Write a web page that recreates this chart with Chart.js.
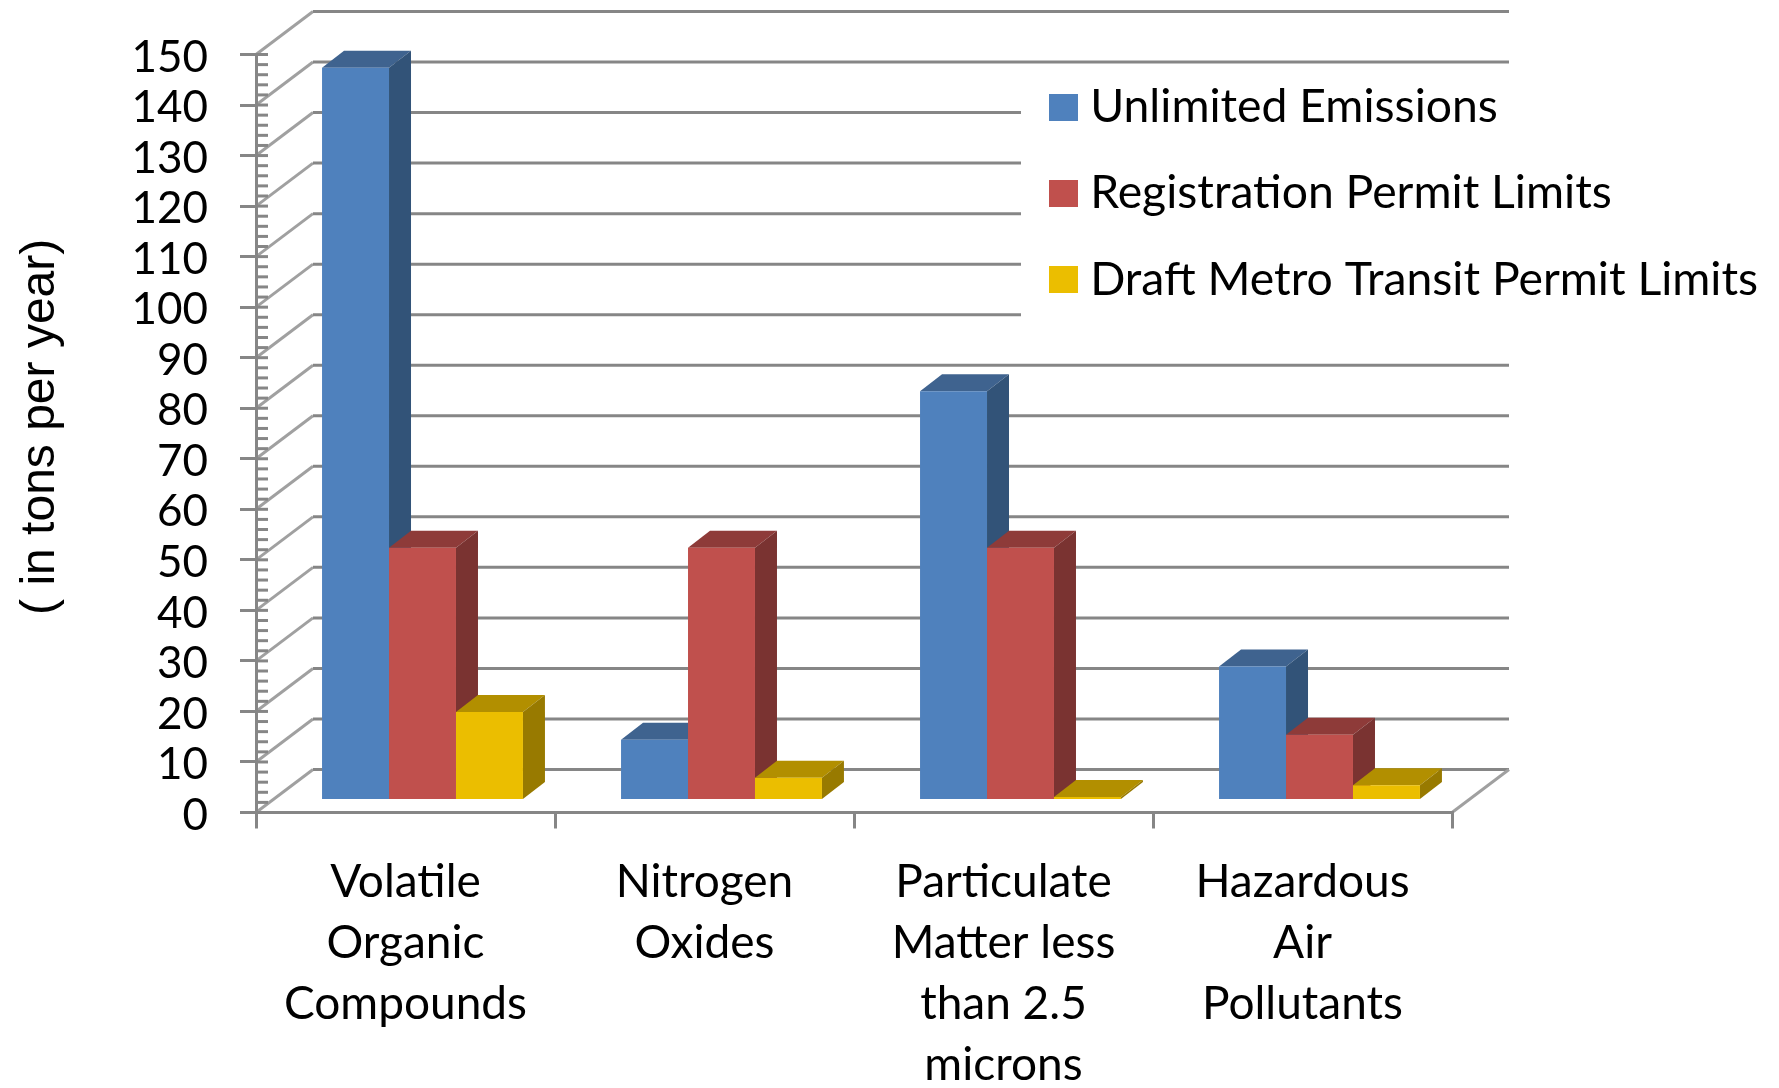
<!DOCTYPE html>
<html>
<head>
<meta charset="utf-8">
<title>Emissions</title>
<script src="https://cdn.jsdelivr.net/npm/chart.js@4"></script>
<style>
    html, body { margin: 0; padding: 0; background: #fff; }
    #box { width: 1779px; height: 1088px; }
</style>
</head>
<body>
<div id="box"><canvas id="emissions-chart"></canvas></div>
<script>
const categories = [
    ['Volatile', 'Organic', 'Compounds'],
    ['Nitrogen', 'Oxides'],
    ['Particulate', 'Matter less', 'than 2.5', 'microns'],
    ['Hazardous', 'Air', 'Pollutants']
];
const unlimitedEmissions = [145, 12, 81, 26.5];
const registrationLimits = [50, 50, 50, 13];
const draftMetroLimits = [17.5, 4.5, 0.7, 3];

const seriesNames = ['Unlimited Emissions', 'Registration Permit Limits', 'Draft Metro Transit Permit Limits'];
const frontColors = ['#4f81bd', '#c0504d', '#ebbe00'];
const topColors = ['#3f638f', '#8e3b39', '#b28f00'];
const sideColors = ['#325378', '#7a3331', '#987a00'];

const lineColor = '#868686';
const wallDepth = { x: 57, y: 43 };
const barShift = { x: 17, y: 12 };
const barDepth = { x: 22, y: 17 };

function fillFace(ctx, points, color) {
    ctx.fillStyle = color;
    ctx.beginPath();
    points.forEach((p, i) => i ? ctx.lineTo(p[0], p[1]) : ctx.moveTo(p[0], p[1]));
    ctx.closePath();
    ctx.fill();
}

// legend swatches are images so the text can sit closer than boxWidth + size / 2
function makeSwatch(color) {
    const swatch = document.createElement('canvas');
    swatch.width = 29;
    swatch.height = 27;
    const c = swatch.getContext('2d');
    c.fillStyle = color;
    c.fillRect(0, 0, 29, 27);
    return swatch;
}
const swatches = frontColors.map(makeSwatch);

// fake 3D: back wall, floor and inward tick marks, all placed from the value scale
const wallPlugin = {
    id: 'wall',
    afterLayout(chart) {
        chart.legend.left = 1019;
        chart.legend.top = 44;
        chart.legend.right = 1779;
        chart.legend.bottom = 400;
    },
    beforeDraw(chart) {
        const ctx = chart.ctx;
        const area = chart.chartArea;
        const y = chart.scales.y;
        ctx.save();
        ctx.lineWidth = 3;
        for (let v = 0; v <= 150; v += 10) {
            const py = y.getPixelForValue(v);
            ctx.strokeStyle = '#a0a0a0';
            ctx.beginPath();
            ctx.moveTo(area.left, py);
            ctx.lineTo(area.left + wallDepth.x, py - wallDepth.y);
            ctx.stroke();
            ctx.strokeStyle = lineColor;
            ctx.beginPath();
            ctx.moveTo(area.left + wallDepth.x, py - wallDepth.y);
            ctx.lineTo(area.right + wallDepth.x, py - wallDepth.y);
            ctx.stroke();
        }
        ctx.strokeStyle = '#a0a0a0';
        ctx.beginPath();
        ctx.moveTo(area.right, area.bottom);
        ctx.lineTo(area.right + wallDepth.x, area.bottom - wallDepth.y);
        ctx.stroke();

        // legend sits on a white box that hides the wall lines
        ctx.fillStyle = '#fff';
        ctx.fillRect(1021, 72, 758, 268);

        ctx.strokeStyle = lineColor;
        for (let v = 0; v <= 150; v += 2) {
            const py = y.getPixelForValue(v);
            ctx.beginPath();
            ctx.moveTo(area.left, py);
            ctx.lineTo(area.left + 12, py);
            ctx.stroke();
        }
        ctx.restore();
    },
    // side and top faces go under all the front faces, left series first
    beforeDatasetsDraw(chart) {
        const ctx = chart.ctx;
        ctx.save();
        ctx.translate(barShift.x, -barShift.y);
        chart.data.datasets.forEach((dataset, index) => {
            chart.getDatasetMeta(index).data.forEach(bar => {
                const left = bar.x - bar.width / 2;
                const right = bar.x + bar.width / 2;
                fillFace(ctx, [
                    [left, bar.y], [right, bar.y],
                    [right + barDepth.x, bar.y - barDepth.y], [left + barDepth.x, bar.y - barDepth.y]
                ], topColors[index]);
                fillFace(ctx, [
                    [right, bar.y], [right + barDepth.x, bar.y - barDepth.y],
                    [right + barDepth.x, bar.base - barDepth.y], [right, bar.base]
                ], sideColors[index]);
            });
        });
        ctx.restore();
    },
    beforeDatasetDraw(chart) {
        chart.ctx.save();
        chart.ctx.translate(barShift.x, -barShift.y);
    },
    afterDatasetDraw(chart) {
        chart.ctx.restore();
    }
};

const allValues = [unlimitedEmissions, registrationLimits, draftMetroLimits];

new Chart(document.getElementById('emissions-chart'), {
    type: 'bar',
    data: {
        labels: categories,
        datasets: allValues.map((values, i) => ({
            label: seriesNames[i],
            data: values,
            backgroundColor: frontColors[i],
            borderWidth: 0,
            categoryPercentage: 0.672,
            barPercentage: 1
        }))
    },
    options: {
        responsive: true,
        maintainAspectRatio: false,
        animation: false,
        layout: { padding: { top: 54.5, right: 327, left: 0, bottom: 0 } },
        scales: {
            x: {
                afterFit: scale => { scale.height = 275.5; },
                border: { color: lineColor, width: 3 },
                grid: { drawOnChartArea: false, color: lineColor, lineWidth: 3, tickLength: 16 },
                ticks: {
                    color: '#000',
                    padding: 23,
                    maxRotation: 0,
                    autoSkip: false,
                    font: { family: 'Lato', size: 46, lineHeight: 1.33 }
                }
            },
            y: {
                min: 0,
                max: 150,
                // tick padding would otherwise push the plot area down
                afterFit: scale => {
                    scale.width = 256;
                    scale.paddingTop = 0;
                    scale.paddingBottom = 0;
                },
                // Lato sits a bit high, nudge the tick labels down
                afterUpdate: scale => {
                    if (scale.labelsNudged) return;
                    scale.labelsNudged = true;
                    const getItems = scale.getLabelItems.bind(scale);
                    scale.getLabelItems = area => getItems(area)
                        .map(item => ({ ...item, textOffset: item.textOffset + 3 }));
                },
                border: { color: lineColor, width: 3 },
                grid: { drawOnChartArea: false, color: lineColor, lineWidth: 3, tickLength: 16 },
                ticks: {
                    stepSize: 10,
                    autoSkip: false,
                    color: '#000',
                    padding: 32,
                    font: { family: 'Lato', size: 44 }
                },
                title: {
                    display: true,
                    text: ' ( in tons per year)',
                    color: '#000',
                    padding: { top: 12, bottom: 0 },
                    font: { family: 'Liberation Sans', size: 48 }
                }
            }
        },
        plugins: {
            tooltip: { enabled: false },
            legend: {
                position: 'chartArea',
                align: 'start',
                labels: {
                    color: '#000',
                    usePointStyle: true,
                    pointStyleWidth: 8,
                    boxHeight: 27,
                    padding: 40,
                    generateLabels: chart => Chart.defaults.plugins.legend.labels.generateLabels(chart)
                        .map((item, i) => ({ ...item, pointStyle: swatches[i] })),
                    font: { family: 'Lato', size: 46.3 }
                }
            }
        }
    },
    plugins: [wallPlugin]
});
</script>
</body>
</html>
